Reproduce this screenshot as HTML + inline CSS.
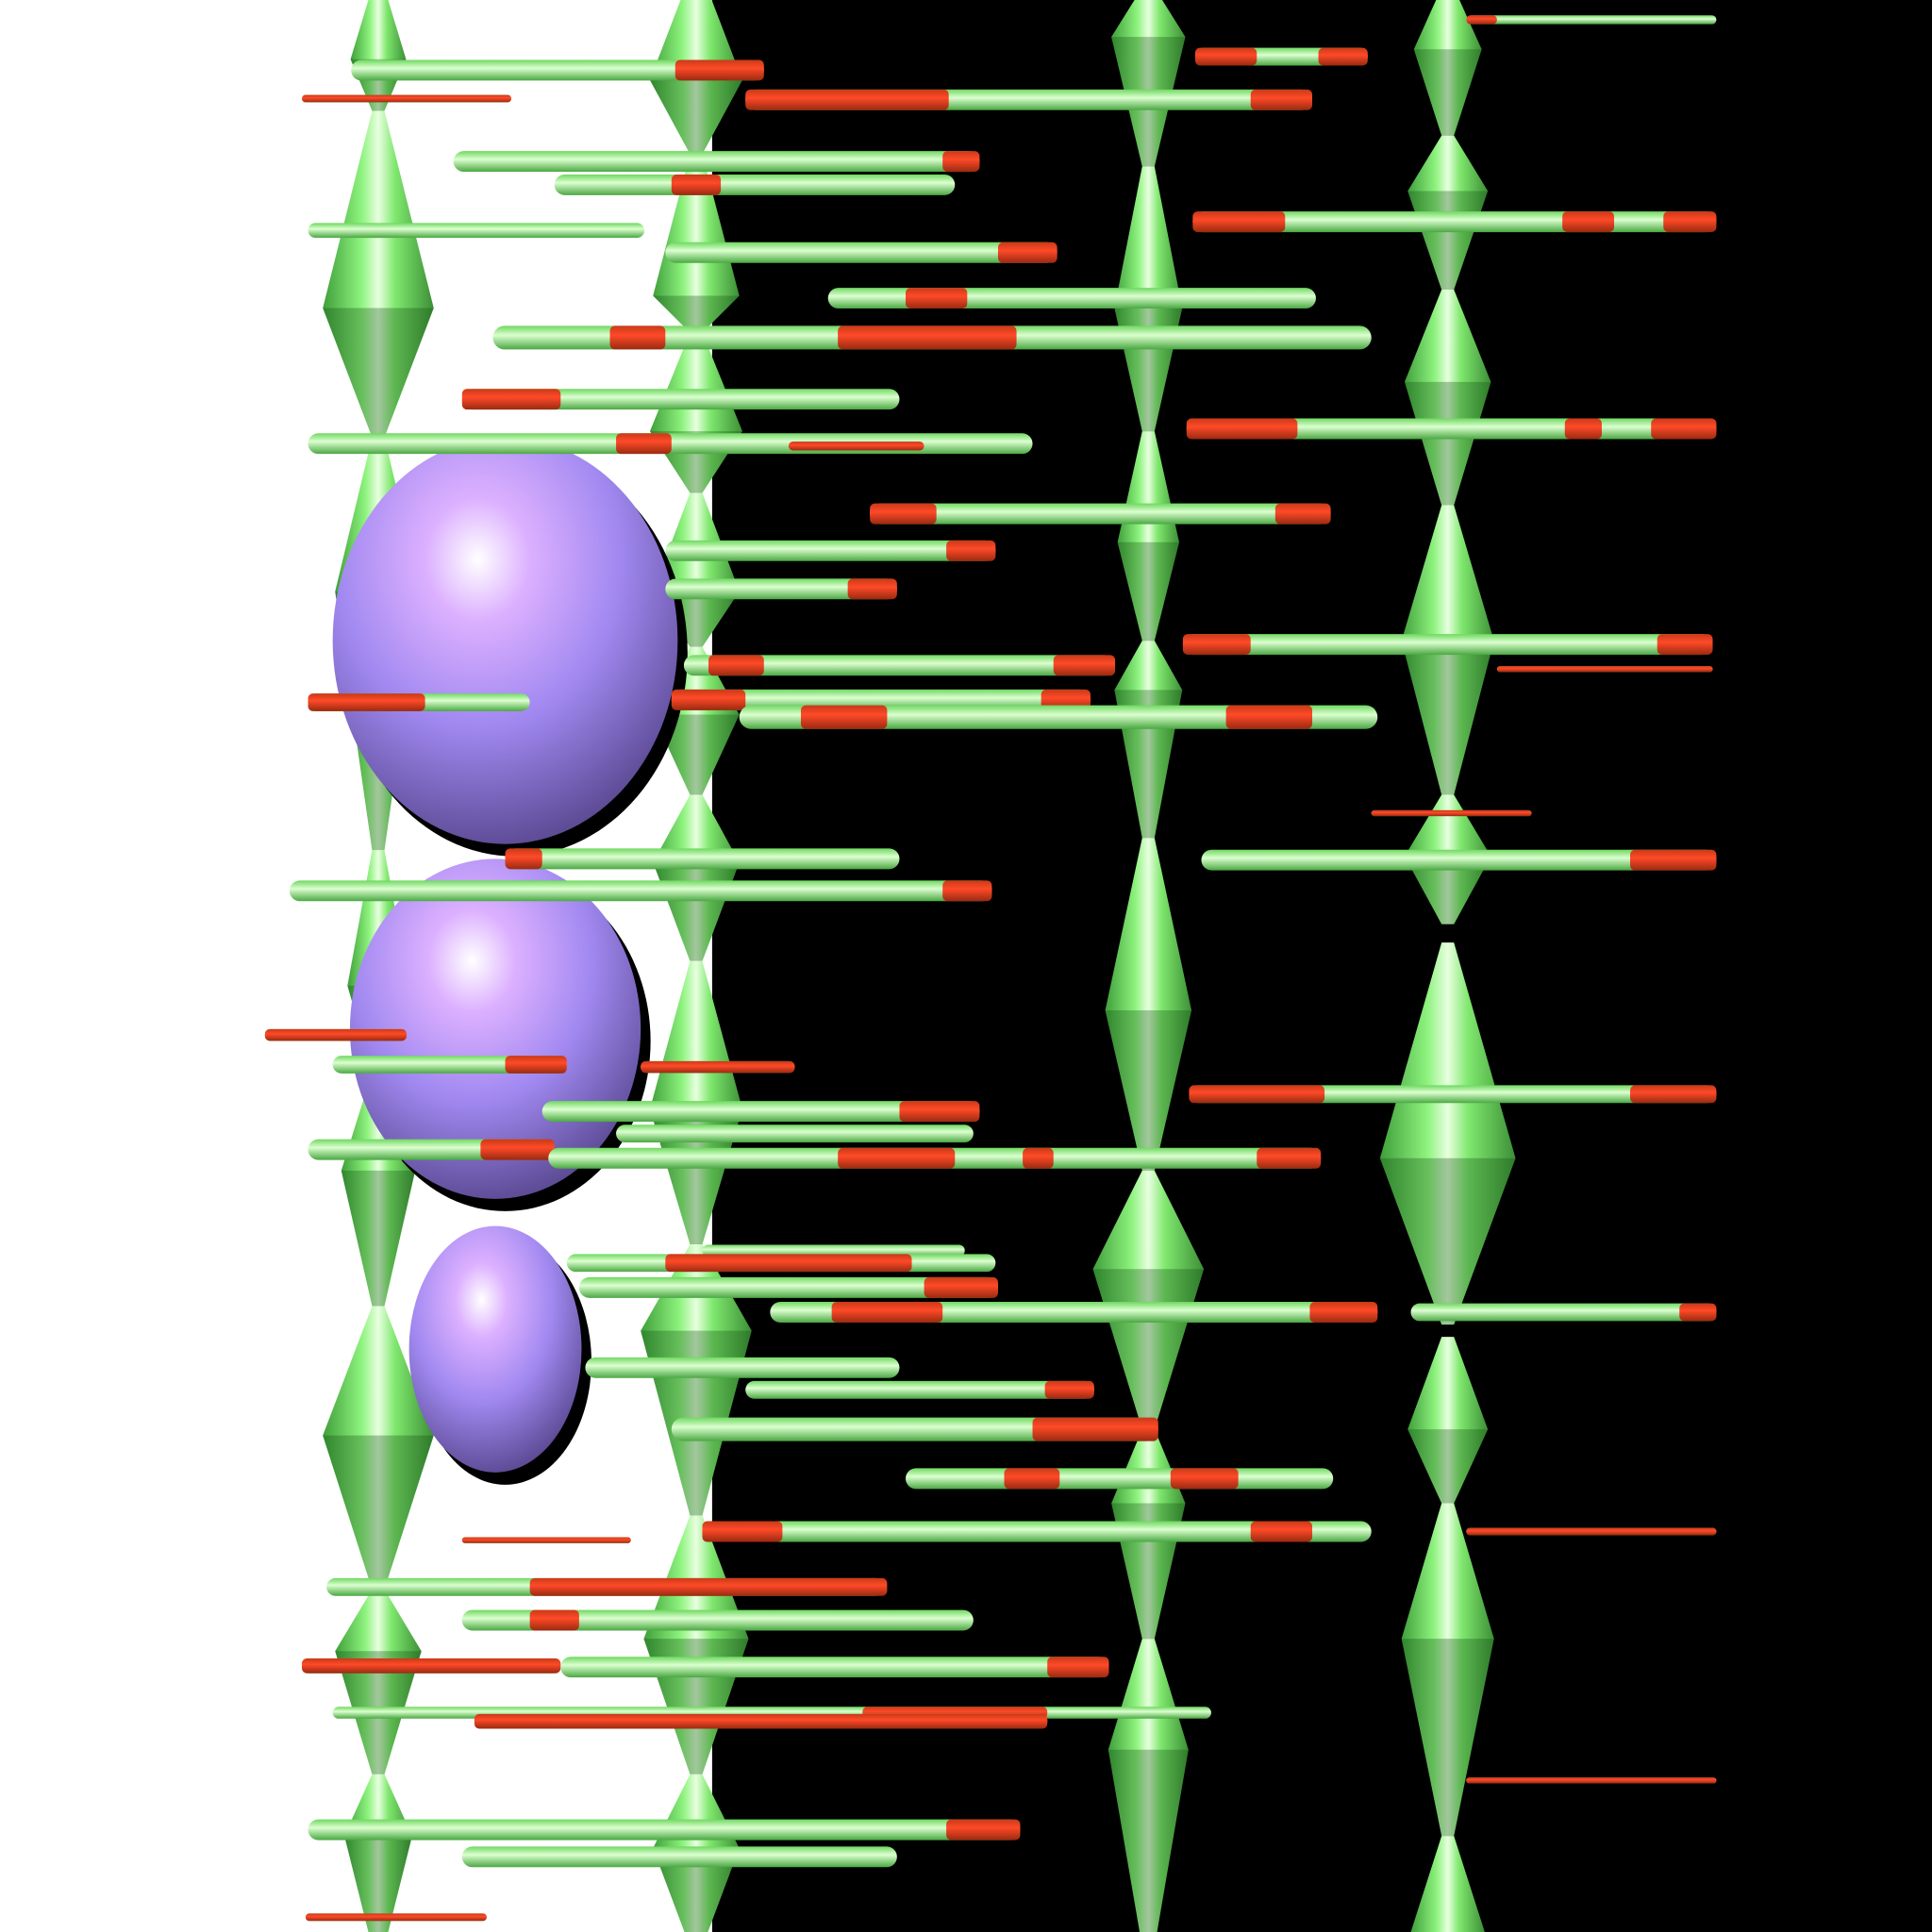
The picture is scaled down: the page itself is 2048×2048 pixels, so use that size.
<!DOCTYPE html>
<html><head><meta charset="utf-8"><title>3D glyph scene</title>
<style>
html,body{margin:0;padding:0;background:#000;}
#wrap{width:2048px;height:2048px;position:relative;overflow:hidden;}
svg{display:block;}
</style></head>
<body>
<div id="wrap">
<svg id="scene" width="2048" height="2048" viewBox="0 0 1568 1568" xmlns="http://www.w3.org/2000/svg">
<defs>
<linearGradient id="gcol" x1="0" y1="0" x2="1" y2="0">
<stop offset="0" stop-color="#3f9f3a"/><stop offset="0.35" stop-color="#8ef37e"/><stop offset="0.5" stop-color="#e8ffe0"/><stop offset="0.65" stop-color="#80e86e"/><stop offset="1" stop-color="#3c8f36"/>
</linearGradient>
<linearGradient id="grod" x1="0" y1="0" x2="0" y2="1">
<stop offset="0" stop-color="#6fd860"/><stop offset="0.4" stop-color="#dcffd0"/><stop offset="1" stop-color="#4aa842"/>
</linearGradient>
<linearGradient id="gred" x1="0" y1="0" x2="0" y2="1">
<stop offset="0" stop-color="#c83a18"/><stop offset="0.4" stop-color="#ff4a28"/><stop offset="1" stop-color="#9a2a10"/>
</linearGradient>
<radialGradient id="gpur" cx="0.42" cy="0.3" r="0.75">
<stop offset="0" stop-color="#ffffff"/><stop offset="0.2" stop-color="#dcb0ff"/><stop offset="0.55" stop-color="#a088f0"/><stop offset="1" stop-color="#55448a"/>
</radialGradient>
</defs>
<rect x="0" y="0" width="578" height="1568" fill="#ffffff"/>
<rect x="578" y="0" width="990" height="1568" fill="#000000"/>
<g id="cols"></g>
<g id="blobs"></g>
<g id="rods"></g>
</svg>
</div>
<script>
// column centers
const colX = [307, 565, 932, 1175];
// segments per column: [top, peak, bottom, width]
const col1 = [[-10,48,90,45],[90,250,355,90],[355,480,690,70],[690,800,870,50],[870,950,1060,60],[1060,1165,1290,90],[1290,1340,1440,70],[1440,1490,1580,55]];
const col2 = [[-20,65,125,75],[125,240,270,70],[270,350,400,75],[400,480,525,70],[525,580,645,70],[645,700,780,70],[780,900,1010,75],[1010,1080,1230,90],[1230,1330,1440,85],[1440,1500,1580,70]];
const col3 = [[-10,30,135,60],[135,250,350,55],[350,440,520,50],[520,560,680,55],[680,820,950,70],[950,1030,1160,90],[1160,1220,1330,60],[1330,1420,1580,65]];
const col4 = [[-10,40,110,55],[110,155,235,65],[235,310,410,70],[410,520,645,75],[645,695,750,70],[765,940,1075,110],[1085,1160,1220,65],[1220,1330,1490,75],[1490,1568,1640,60]];
const columns = [col1, col2, col3, col4];

// blobs: cx, cy, rx, ry
const blobCx = [410, 402, 402];
const blobCy = [520, 835, 1095];
const blobRx = [140, 118, 70];
const blobRy = [165, 138, 100];

// rods
const rodY  = [57,80,81,46,16,131,150,187,205,242,180,274,324,348,360,362,417,447,478,523,543,540,568,570,582,660,697,698,723,840,864,866,902,920,933,940,888,1015,1025,1045,1065,1065,1110,1128,1160,1200,1243,1243,1250,1288,1315,1352,1353,1390,1397,1445,1485,1507,1556];
const rodX1 = [285,245,605,970,1190,368,450,250,540,672,968,400,375,963,250,640,706,540,540,960,1215,555,545,250,600,1113,410,975,235,215,270,520,440,500,250,445,965,570,460,470,625,1145,475,605,545,735,570,1190,375,265,375,245,455,270,385,1190,250,375,248];
const rodX2 = [620,415,1065,1110,1393,795,775,523,858,1068,1393,1113,730,1393,838,750,1080,808,728,1390,1390,905,885,430,1118,1243,730,1393,805,330,460,645,795,790,450,1072,1393,783,808,810,1118,1393,730,888,940,1082,1113,1393,512,718,790,455,900,983,850,1393,828,728,395];
const rodH  = [14,5,14,12,6,14,14,10,14,14,14,16,14,14,14,6,14,14,14,14,4,14,14,12,16,4,14,14,14,8,12,8,14,12,14,14,12,8,12,14,14,12,14,12,16,14,14,5,4,12,14,10,14,8,10,4,14,14,5];
// red segments per rod (x ranges)
const rodRed = [[[548,620]],[[245,415]],[[605,770],[1015,1065]],[[970,1020],[1070,1110]],[[1190,1215]],[[765,795]],[[545,585]],[],[[810,858]],[[735,785]],[[968,1043],[1268,1310],[1350,1393]],[[495,540],[680,825]],[[375,455]],[[963,1053],[1270,1300],[1340,1393]],[[500,545]],[[640,750]],[[706,760],[1035,1080]],[[768,808]],[[688,728]],[[960,1015],[1345,1390]],[[1215,1390]],[[575,620],[855,905]],[[545,605],[845,885]],[[250,345]],[[650,720],[995,1065]],[[1113,1243]],[[410,440]],[[1323,1393]],[[765,805]],[[215,330]],[[410,460]],[[520,645]],[[730,795]],[],[[390,450]],[[680,775],[830,855],[1020,1072]],[[965,1075],[1323,1393]],[],[[540,740]],[[750,810]],[[675,765],[1063,1118]],[[1363,1393]],[],[[848,888]],[[838,940]],[[815,860],[950,1005]],[[570,635],[1015,1065]],[[1190,1393]],[[375,512]],[[430,720]],[[430,470]],[[245,455]],[[850,900]],[[700,850]],[[385,850]],[[1190,1393]],[[768,828]],[],[[248,395]]];

const NS = 'http://www.w3.org/2000/svg';
const cg = document.getElementById('cols');
columns.forEach((segs, ci) => {
  const cx = colX[ci];
  segs.forEach((s, si) => {
    const [t, p, b, w] = s;
    const poly = document.createElementNS(NS, 'polygon');
    const pts = [[cx-5,t],[cx+5,t],[cx+w/2,p],[cx+5,b],[cx-5,b],[cx-w/2,p]].map(q=>q.join(',')).join(' ');
    poly.setAttribute('points', pts);
    poly.setAttribute('fill', 'url(#gcol)');
    
    
    cg.appendChild(poly);
    const sh = document.createElementNS(NS, 'polygon');
    sh.setAttribute('points', [[cx-w/2,p],[cx+w/2,p],[cx+5,b],[cx-5,b]].map(q=>q.join(',')).join(' '));
    sh.setAttribute('fill', 'rgba(20,80,20,0.32)');
    
    
    cg.appendChild(sh);
  });
});

const bg = document.getElementById('blobs');
blobCx.forEach((cx, i) => {
  const sh = document.createElementNS(NS, 'ellipse');
  sh.setAttribute('cx', cx + 8); sh.setAttribute('cy', blobCy[i] + 10);
  sh.setAttribute('rx', blobRx[i]); sh.setAttribute('ry', blobRy[i]);
  sh.setAttribute('fill', '#000');
  
  
  bg.appendChild(sh);
  const e = document.createElementNS(NS, 'ellipse');
  e.setAttribute('cx', cx); e.setAttribute('cy', blobCy[i]);
  e.setAttribute('rx', blobRx[i]); e.setAttribute('ry', blobRy[i]);
  e.setAttribute('fill', 'url(#gpur)');
  
  
  bg.appendChild(e);
});

const rg = document.getElementById('rods');
rodY.forEach((y, i) => {
  const x1 = rodX1[i], x2 = rodX2[i], h = rodH[i] * 1.2;
  const g = document.createElementNS(NS, 'g');
  
  
  const r = document.createElementNS(NS, 'rect');
  r.setAttribute('x', x1); r.setAttribute('y', y - h/2);
  r.setAttribute('width', x2 - x1); r.setAttribute('height', h);
  r.setAttribute('rx', h/2);
  r.setAttribute('fill', 'url(#grod)');
  
  
  g.appendChild(r);
  rodRed[i].forEach(seg => {
    const s = document.createElementNS(NS, 'rect');
    s.setAttribute('x', seg[0]); s.setAttribute('y', y - h/2);
    s.setAttribute('width', seg[1] - seg[0]); s.setAttribute('height', h);
    s.setAttribute('rx', Math.min(h/2, 4));
    s.setAttribute('fill', 'url(#gred)');
    
    
    g.appendChild(s);
  });
  rg.appendChild(g);
});
</script>
</body></html>
